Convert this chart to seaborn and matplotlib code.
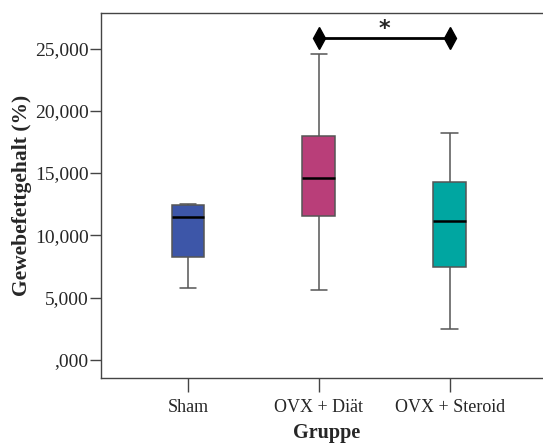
import numpy as np
import pandas as pd
import matplotlib
matplotlib.use("Agg")
import matplotlib.pyplot as plt
import seaborn as sns

# values (min, Q1, median, Q3, max per group)
sham = [5800, 8240, 11480, 12420, 12500]
ovx_diaet = [5590, 11580, 14630, 17950, 24560]
ovx_steroid = [2490, 7490, 11130, 14260, 18220]

groups = ["Sham", "OVX + Diät", "OVX + Steroid"]
colors = ["#3d56a8", "#b93e79", "#00a6a1"]
yticks = [0, 5000, 10000, 15000, 20000, 25000]
ytick_labels = [",000", "5,000", "10,000", "15,000", "20,000", "25,000"]
sig_level = 25870

df = pd.DataFrame({
    "Gruppe": np.repeat(groups, 5),
    "Wert": sham + ovx_diaet + ovx_steroid,
})

sns.set_style("white")
plt.rcParams["font.family"] = ["Liberation Serif", "DejaVu Serif"]

fig = plt.figure(figsize=(5.43, 4.43), dpi=100)
ax = fig.add_axes([0.186, 0.147, 0.83, 0.824])

sns.boxplot(data=df, x="Gruppe", y="Wert", hue="Gruppe", palette=colors,
            width=0.25, whis=(0, 100), linewidth=1.1, linecolor="#555555",
            saturation=1, legend=False, ax=ax,
            medianprops={"color": "black", "linewidth": 1.8})

# significance bar
ax.plot([1, 2], [sig_level, sig_level], color="black", lw=2,
        marker="d", markersize=11)
ax.text(1.5, 26600, "*", ha="center", va="center", fontsize=16,
        fontweight="bold", family="DejaVu Sans")

ax.set_xlim(-0.664, 2.78)
ax.set_ylim(-1450, 27870)
ax.set_yticks(yticks)
ax.set_yticklabels(ytick_labels, fontsize=14)
ax.tick_params(axis="x", labelsize=13, length=10, width=1, color="#444444",
               direction="out", pad=5, bottom=True)
ax.tick_params(axis="y", length=8, width=1, color="#444444", direction="out",
               pad=1, left=True)

for side in ["left", "bottom", "top"]:
    ax.spines[side].set_color("#444444")
    ax.spines[side].set_linewidth(1)
ax.spines["right"].set_visible(False)

ax.set_xlabel("Gruppe", fontsize=14.5, fontweight="bold", labelpad=5)
ax.set_ylabel("Gewebefettgehalt (%)", fontsize=15.5, fontweight="bold", labelpad=2)

fig.savefig("out.png", dpi=100)
